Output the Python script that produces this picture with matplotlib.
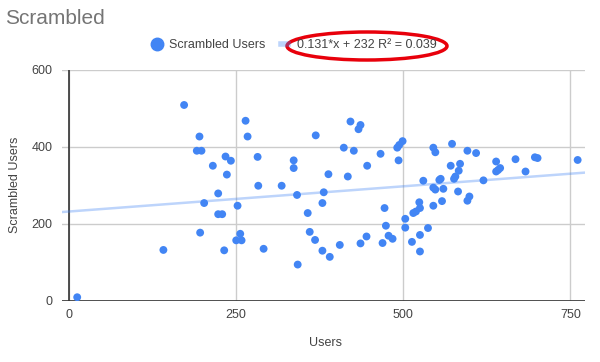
import matplotlib
matplotlib.use("Agg")
import matplotlib.pyplot as plt
from matplotlib.lines import Line2D
from matplotlib.patches import Ellipse

plt.rcParams['font.family'] = ['Liberation Sans', 'DejaVu Sans']

users = [12, 141, 172, 195, 191, 198, 196, 202, 215, 223, 223, 229, 232, 234, 236,
         242, 250, 252, 256, 258, 264, 267, 282, 283, 291, 318, 336, 336, 341, 342,
         357, 360, 368, 369, 379, 379, 381, 388, 390, 405, 411, 417, 421, 426, 433,
         436, 436, 445, 446, 466, 469, 472, 474, 478, 484, 491, 494, 499, 493, 503,
         503, 513, 525, 525, 515, 519, 524, 525, 537, 530, 545, 545, 548, 545, 548,
         560, 556, 554, 558, 573, 571, 585, 583, 578, 576, 582, 596, 609, 599, 596,
         620, 639, 642, 645, 639, 668, 683, 697, 701, 761]
scrambled = [9, 132, 509, 427, 390, 390, 177, 254, 351, 279, 225, 225, 131, 375, 328,
             364, 157, 247, 174, 157, 468, 427, 374, 299, 135, 299, 365, 345, 275, 94,
             228, 179, 158, 430, 130, 254, 282, 329, 114, 145, 398, 323, 466, 390, 446,
             457, 149, 167, 351, 382, 150, 241, 195, 169, 161, 398, 405, 415, 365, 213,
             190, 153, 171, 128, 228, 232, 256, 241, 189, 312, 247, 294, 289, 398, 386,
             291, 317, 314, 259, 408, 351, 356, 338, 323, 317, 284, 390, 384, 271, 260,
             313, 362, 340, 345, 336, 368, 336, 373, 371, 366]

slope = 0.131
intercept = 232
equation_label = "0.131*x + 232 R\u00b2 = 0.039"
series_label = "Scrambled Users"
x_ticks = [0, 250, 500, 750]
y_ticks = [0, 200, 400, 600]

W, H = 600, 362
fig = plt.figure(figsize=(6, 3.62), dpi=100)
left, right, top, bottom = 62.3, 585, 70, 300.7
ax = fig.add_axes([left / W, 1 - bottom / H, (right - left) / W, (bottom - top) / H])

blue = '#4285F4'
ax.set_xlim(-10.3, 772)
ax.set_ylim(0, 600)
ax.set_xticks(x_ticks)
ax.set_yticks(y_ticks)
ax.grid(True, color='#cccccc', lw=1)
ax.set_axisbelow(True)
for s in ax.spines.values():
    s.set_visible(False)
ax.axhline(0, color='#333333', lw=1.2, zorder=1.5)
ax.axvline(0, color='#333333', lw=1.2, zorder=1.5)
ax.tick_params(length=0, labelsize=9, colors='#444444')
ax.tick_params(axis='y', pad=7)
ax.tick_params(axis='x', pad=6)

ax.axline((0, intercept), slope=slope, color=blue, alpha=0.35, lw=1.8, zorder=2)
ax.scatter(users, scrambled, s=32, color=blue, edgecolors='none', zorder=3)

fig.text(325 / W, 1 - 343 / H, 'Users', fontsize=9, color='#444444', ha='center', va='center')
fig.text(15 / W, 1 - 185 / H, 'Scrambled Users', fontsize=9, color='#444444',
         ha='center', va='center', rotation=90)

fig.text(5 / W, 1 - 18 / H, 'Scrambled', fontsize=15, color='#757575', va='center', ha='left')

handles = [Line2D([], [], marker='o', ls='none', color=blue, markersize=9),
           Line2D([], [], color=blue, alpha=0.35, lw=4)]
fig.legend(handles, [series_label, equation_label], loc='center',
           bbox_to_anchor=(295 / W, 1 - 45 / H), ncol=2, frameon=False,
           fontsize=9, labelcolor='#444444', handlelength=0.6, handletextpad=0.7,
           columnspacing=1.2)

ell = Ellipse((367 / W, 1 - 46 / H), 160 / W, 28 / H, transform=fig.transFigure,
              fill=False, edgecolor='#e8000b', lw=2.5)
fig.patches.append(ell)

fig.savefig('out.png', dpi=100)
